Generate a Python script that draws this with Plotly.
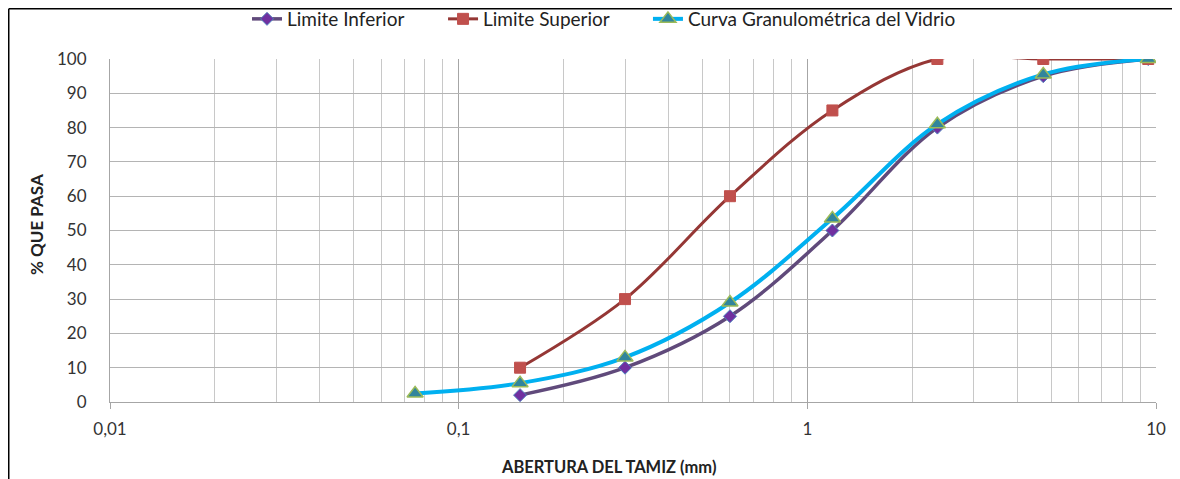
import plotly.graph_objects as go

# Data
tamiz_limites = [0.15, 0.3, 0.6, 1.18, 2.36, 4.75, 9.5]
limite_inferior = [2, 10, 25, 50, 80, 95, 100]
limite_superior = [10, 30, 60, 85, 100, 100, 100]
tamiz_vidrio = [0.075, 0.15, 0.3, 0.6, 1.18, 2.36, 4.75, 9.5]
curva_vidrio = [2.5, 5.5, 13, 29, 53.5, 81, 95.5, 100]

x_major = [0.01, 0.1, 1, 10]
x_major_labels = ["0,01", "0,1", "1", "10"]
x_minor = [m * d for d in (0.01, 0.1, 1) for m in range(2, 10)]
y_ticks = list(range(0, 101, 10))

FONT = "Lato"

fig = go.Figure()
fig.add_trace(go.Scatter(
    x=tamiz_limites, y=limite_inferior, name="Limite Inferior", legend="legend",
    mode="lines+markers", line=dict(color="#604A7B", width=3.5, shape="spline"),
    marker=dict(symbol="diamond", size=10, color="#7030A0",
                line=dict(color="#4F81BD", width=1)),
))
fig.add_trace(go.Scatter(
    x=tamiz_limites, y=limite_superior, name="Limite Superior", legend="legend2",
    mode="lines+markers", line=dict(color="#953735", width=3, shape="spline"),
    marker=dict(symbol="square", size=11, color="#C0504D",
                line=dict(color="#C0504D", width=1)),
))
fig.add_trace(go.Scatter(
    x=tamiz_vidrio, y=curva_vidrio, name="Curva Granulométrica del Vidrio", legend="legend3",
    mode="lines+markers", line=dict(color="#00B0F0", width=4, shape="spline"),
    marker=dict(symbol="triangle-up", size=14, color="#31859C",
                line=dict(color="#9BBB59", width=1.5)),
))

def leg(x):
    return dict(orientation="h", x=x, y=1.1166, xanchor="left", yanchor="middle",
                font=dict(family=FONT, size=19, color="#222222"),
                bgcolor="rgba(0,0,0,0)")

fig.update_layout(
    width=1180, height=479,
    margin=dict(l=102, r=32, t=51, b=85, autoexpand=False),
    paper_bgcolor="white", plot_bgcolor="white",
    separators=",.",
    font=dict(family=FONT, size=17, color="#333333"),
    showlegend=True,
    legend=leg(0.131), legend2=leg(0.3184), legend3=leg(0.5143),
    xaxis=dict(
        type="log", range=[-2, 1], tickvals=x_major, ticktext=x_major_labels,
        showgrid=True, gridcolor="#A6A6A6", gridwidth=1,
        minor=dict(tickvals=x_minor, showgrid=True, gridcolor="#C8C8C8", gridwidth=1, ticks=""),
        showline=True, linecolor="#A6A6A6", linewidth=1,
        ticks="outside", ticklen=6, tickcolor="#A6A6A6",
        ticklabelstandoff=6, zeroline=False,
        tickfont=dict(family=FONT, size=17, color="#333333"),
    ),
    yaxis=dict(
        range=[0, 100], tickvals=y_ticks,
        showgrid=True, gridcolor="#B4B4B4", gridwidth=1,
        showline=True, linecolor="#A6A6A6", linewidth=1,
        ticks="", ticklabelstandoff=19, zeroline=False,
        tickfont=dict(family=FONT, size=17, color="#333333"),
    ),
    annotations=[
        dict(text="<b>% QUE PASA</b>", xref="paper", yref="paper", x=-0.0698, y=0.519,
             textangle=-90, showarrow=False, font=dict(family=FONT, size=17, color="#222222"),
             xanchor="center", yanchor="middle"),
        dict(text="<b>ABERTURA DEL TAMIZ (mm)</b>", xref="paper", yref="paper", x=0.477, y=-0.1895,
             showarrow=False, font=dict(family=FONT, size=16.5, color="#222222"),
             xanchor="center", yanchor="middle"),
    ],
    shapes=[
        dict(type="line", xref="paper", yref="paper", x0=-0.0968, x1=-0.0968, y0=1.1465, y1=-0.3,
             line=dict(color="black", width=1.5)),
        dict(type="line", xref="paper", yref="paper", x0=-0.0968, x1=1.05, y0=1.1465, y1=1.1465,
             line=dict(color="black", width=1.5)),
    ],
)

fig.write_html("out.html")
